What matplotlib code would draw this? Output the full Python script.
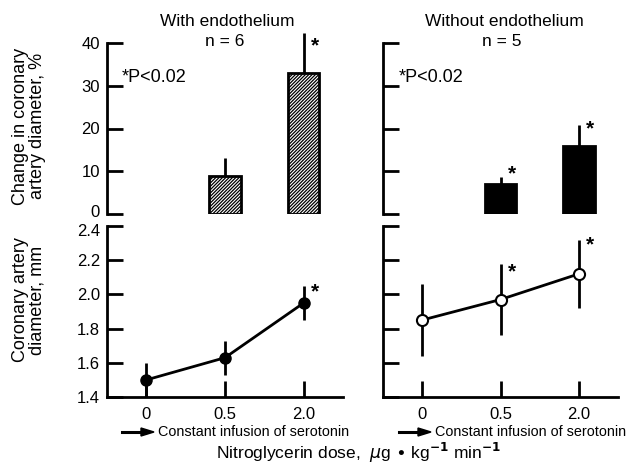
import numpy as np
import matplotlib.pyplot as plt
from matplotlib.transforms import ScaledTranslation

# doses (categorical)
doses = ["0", "0.5", "2.0"]

# change in diameter (%) - bars at 0.5 and 2.0
pct_with = [9.0, 33.0]
pct_with_err = [4.0, 9.3]
pct_without = [7.0, 16.0]
pct_without_err = [1.7, 4.9]

# absolute diameter (mm)
mm_with = [1.50, 1.63, 1.95]
mm_with_err = [0.10, 0.10, 0.10]
mm_without = [1.85, 1.97, 2.12]
mm_without_err = [0.21, 0.21, 0.20]

plt.rcParams['font.family'] = ['Liberation Sans', 'DejaVu Sans']
plt.rcParams['hatch.linewidth'] = 0.9

fig = plt.figure(figsize=(6.33, 4.66), dpi=100)
W, H = 633.0, 466.0


def px_axes(x0, y0, x1, y1):
    return fig.add_axes([x0 / W, 1 - y1 / H, (x1 - x0) / W, (y1 - y0) / H])


ax_tl = px_axes(107, 43, 343, 214)
ax_tr = px_axes(383, 43, 618, 214)
ax_bl = px_axes(107, 226, 343, 397)
ax_br = px_axes(383, 226, 618, 397)

x = np.arange(len(doses))
LW = 2.0
TL = 11.5
FS_TICK = 12


def style_top(ax):
    for s in ["top", "right", "bottom"]:
        ax.spines[s].set_visible(False)
    ax.spines["left"].set_linewidth(LW)
    ax.set_xlim(-0.5, 2.5)
    ax.set_ylim(0, 40)
    ax.set_yticks([0, 10, 20, 30, 40])
    ax.set_xticks([])
    ax.tick_params(axis="y", direction="in", length=TL, width=LW, labelsize=FS_TICK, pad=5)


def style_bottom(ax):
    for s in ["top", "right"]:
        ax.spines[s].set_visible(False)
    ax.spines["left"].set_linewidth(LW)
    ax.spines["bottom"].set_linewidth(LW)
    ax.set_xlim(-0.5, 2.5)
    ax.set_ylim(1.4, 2.4)
    ax.set_yticks([1.4, 1.6, 1.8, 2.0, 2.2, 2.4])
    ax.set_xticks(x)
    ax.set_xticklabels(doses)
    ax.tick_params(direction="in", length=TL, width=LW, labelsize=FS_TICK, pad=5)
    ax.tick_params(axis="x", pad=7)


for ax in (ax_tl, ax_tr):
    style_top(ax)
for ax in (ax_bl, ax_br):
    style_bottom(ax)
ax_tr.set_yticklabels([])
ax_br.set_yticklabels([])

# nudge the "0" and "2.4" labels apart like the original
fig.canvas.draw()
ax_tl.get_yticklabels()[0].set_transform(
    ax_tl.get_yticklabels()[0].get_transform() + ScaledTranslation(0, 3 / 100, fig.dpi_scale_trans))
ax_bl.get_yticklabels()[-1].set_transform(
    ax_bl.get_yticklabels()[-1].get_transform() + ScaledTranslation(0, -4 / 100, fig.dpi_scale_trans))

# bars
bx = x[1:]
ax_tl.bar(bx, pct_with, width=0.4, color="white", edgecolor="black",
          linewidth=2, hatch="//////////", zorder=3)
ax_tl.errorbar(bx, pct_with, yerr=[[0, 0], pct_with_err], fmt="none",
               ecolor="black", elinewidth=LW, capsize=0, zorder=2, clip_on=False)
ax_tr.bar(bx, pct_without, width=0.4, color="black", edgecolor="black",
          linewidth=2, zorder=3)
ax_tr.errorbar(bx, pct_without, yerr=[[0, 0], pct_without_err], fmt="none",
               ecolor="black", elinewidth=LW, capsize=0, zorder=2, clip_on=False)

# line plots
ax_bl.errorbar(x, mm_with, yerr=mm_with_err, fmt="-o", color="black", lw=LW,
               elinewidth=LW, capsize=0, markersize=8, mfc="black", mec="black",
               clip_on=False, zorder=3)
ax_br.errorbar(x, mm_without, yerr=mm_without_err, fmt="-o", color="black", lw=LW,
               elinewidth=LW, capsize=0, markersize=8, mfc="white", mec="black",
               mew=1.5, clip_on=False, zorder=3)


def star(ax, xv, yv, dx=8, dy=-4):
    ax.annotate("*", (xv, yv), xytext=(dx, dy), textcoords="offset points",
                ha="center", va="center", fontsize=15, fontweight="bold",
                annotation_clip=False)


star(ax_tl, 2, pct_with[1] + pct_with_err[1], dy=-9)
star(ax_tr, 1, pct_without[0] + pct_without_err[0], dy=2)
star(ax_tr, 2, pct_without[1] + pct_without_err[1], dy=-3)
star(ax_bl, 2, mm_with[2] + mm_with_err[2], dy=-4)
star(ax_br, 1, mm_without[1] + mm_without_err[1], dy=-6)
star(ax_br, 2, mm_without[2] + mm_without_err[2], dy=-4)

# titles / notes
fig.text(227 / W, 1 - 22 / H, "With endothelium", ha="center", va="center", fontsize=12.5)
fig.text(225 / W, 1 - 42 / H, "n = 6", ha="center", va="center", fontsize=12.5)
fig.text(504 / W, 1 - 22 / H, "Without endothelium", ha="center", va="center", fontsize=12.5)
fig.text(502 / W, 1 - 42 / H, "n = 5", ha="center", va="center", fontsize=12.5)
fig.text(122 / W, 1 - 78 / H, "*P<0.02", ha="left", va="center", fontsize=13)
fig.text(399 / W, 1 - 78 / H, "*P<0.02", ha="left", va="center", fontsize=13)

fig.text(29 / W, 1 - 126 / H, "Change in coronary\nartery diameter, %", rotation=90,
         ha="center", va="center", fontsize=13, linespacing=1.0)
fig.text(29 / W, 1 - 300 / H, "Coronary artery\ndiameter, mm", rotation=90,
         ha="center", va="center", fontsize=13, linespacing=1.0)

for x0, x1 in ((122, 154), (399, 431)):
    fig.add_artist(plt.Line2D([x0 / W, (x1 - 8) / W], [1 - 432 / H] * 2,
                              color="black", lw=2.2))
    fig.patches.append(plt.Polygon([[(x1 - 13) / W, 1 - 428 / H],
                                    [x1 / W, 1 - 432 / H],
                                    [(x1 - 13) / W, 1 - 436 / H]],
                                   closed=True, color="black",
                                   transform=fig.transFigure, figure=fig))
    fig.text((x1 + 4) / W, 1 - 432 / H, "Constant infusion of serotonin",
             ha="left", va="center", fontsize=10.4)

fig.text(359 / W, 1 - 453 / H,
         r"Nitroglycerin dose,  $\mu$g $\bullet$ kg$^{\mathbf{-1}}$ min$^{\mathbf{-1}}$",
         ha="center", va="center", fontsize=12.5)

fig.savefig("out.png", dpi=100)
